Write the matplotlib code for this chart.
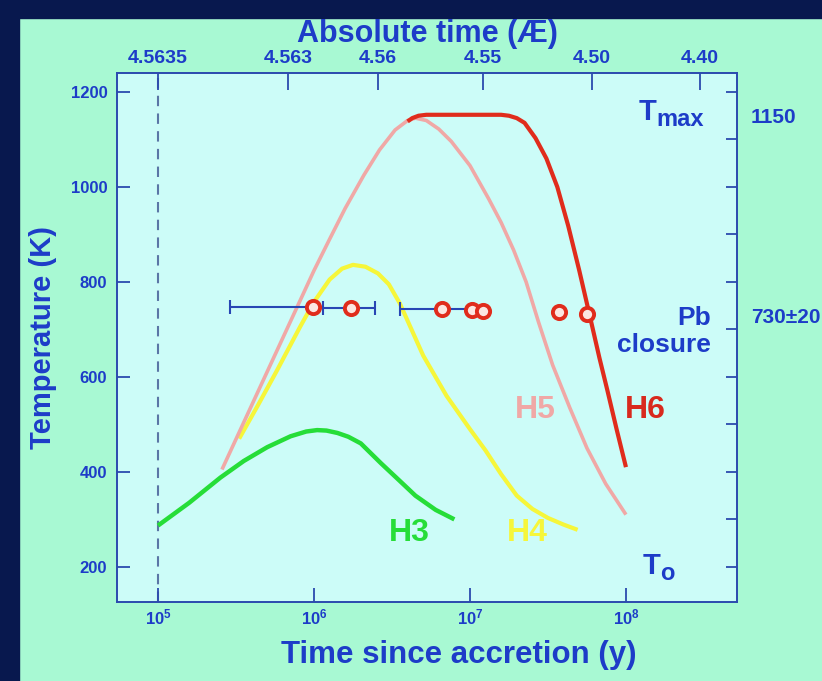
import matplotlib.pyplot as plt
import numpy as np
from matplotlib.patches import Rectangle

plt.rcParams["font.family"] = ["Liberation Sans", "DejaVu Sans"]
plt.rcParams["font.weight"] = "bold"
plt.rcParams["axes.labelweight"] = "bold"
plt.rcParams["mathtext.fontset"] = "custom"
plt.rcParams["mathtext.bf"] = "Liberation Sans:bold"
plt.rcParams["mathtext.rm"] = "Liberation Sans:bold"

# ─── Data (time as log10 years, temperature in K) ─────────────────────────────

h3_logt = [5.0, 5.2, 5.4, 5.55, 5.7, 5.85, 5.95, 6.02, 6.08, 6.15, 6.22, 6.3,
           6.43, 6.55, 6.65, 6.78, 6.9]
h3_temp = [287, 335, 388, 423, 452, 475, 485, 488, 487, 482, 474, 460,
           418, 381, 350, 320, 300]

h4_logt = [5.52, 5.64, 5.76, 5.91, 6.0, 6.1, 6.18, 6.25, 6.33, 6.41, 6.48, 6.55,
           6.7, 6.85, 7.0, 7.1, 7.2, 7.3, 7.4, 7.5, 7.6, 7.69]
h4_temp = [470, 540, 612, 705, 758, 805, 828, 836, 832, 818, 795, 755,
           645, 560, 490, 445, 395, 350, 322, 303, 289, 278]

h5_logt = [5.41, 5.6, 5.8, 6.0, 6.1, 6.2, 6.32, 6.42, 6.52, 6.6, 6.65, 6.72, 6.8,
           6.88, 7.0, 7.12, 7.2, 7.28, 7.36, 7.44, 7.53, 7.64, 7.75, 7.87, 8.0]
h5_temp = [405, 540, 682, 824, 890, 955, 1025, 1078, 1120, 1140, 1145, 1140, 1122,
           1096, 1045, 975, 925, 867, 800, 715, 625, 535, 450, 375, 310]

h6_logt = [6.6, 6.63, 6.67, 6.72, 7.0, 7.2, 7.25, 7.3, 7.35, 7.42, 7.49, 7.56,
           7.63, 7.7, 7.77, 7.83, 7.88, 7.94, 8.0]
h6_temp = [1138, 1145, 1150, 1152, 1152, 1152, 1150, 1145, 1135, 1103, 1060, 1000,
           918, 825, 726, 640, 573, 490, 410]

pb_logt = [5.992, 6.237, 6.822, 7.011, 7.085, 7.572, 7.752]
pb_temp = [748, 746, 743, 740, 739, 736, 733]
# error bar extents for the first three ages
err_lo = [5.462, 6.058, 6.551]
err_hi = [5.992, 6.391, 7.011]

top_pos = [5.0, 5.833, 6.41, 7.083, 7.782, 8.474]
top_labels = ["4.5635", "4.563", "4.56", "4.55", "4.50", "4.40"]

bottom_pos = [5, 6, 7, 8]
left_ticks = [200, 400, 600, 800, 1000, 1200]
right_vals = [1150, 730, 200]
right_labels = ["1150", "730\u00b120", "200"]

# ─── Style ────────────────────────────────────────────────────────────────────

MINT = "#A8F9D3"
CYAN = "#CCFCF8"
NAVY = "#08184E"
BLUE = "#1D3CC8"
SPINE = "#2B4AAE"
GREEN = "#26DD38"
YELLOW = "#F6F63A"
PINK = "#F0A8A6"
RED = "#E02C1C"
W, H = 822, 681


def yr(logt):
    return np.power(10.0, np.asarray(logt, dtype=float))


fig = plt.figure(figsize=(W / 100, H / 100), dpi=100, facecolor=MINT)
fig.patches.append(Rectangle((0, 0), 19 / W, 1, transform=fig.transFigure,
                             color=NAVY, zorder=-1))
fig.patches.append(Rectangle((0, 1 - 18 / H), 1, 18 / H, transform=fig.transFigure,
                             color=NAVY, zorder=-1))

ax = fig.add_axes([117 / W, 1 - 602 / H, 620 / W, 529 / H])
ax.set_facecolor(CYAN)
ax.set_xscale("log")
ax.set_xlim(10 ** 4.737, 10 ** 8.712)
ax.set_ylim(126, 1240)

ax.axvline(1e5, color="#5A76A6", lw=1.5, ls=(0, (5, 3.5)), zorder=1)

line_kw = dict(solid_capstyle="butt", solid_joinstyle="round")
ax.plot(yr(h3_logt), h3_temp, color=GREEN, lw=3.2, zorder=3, **line_kw)
ax.plot(yr(h4_logt), h4_temp, color=YELLOW, lw=3.0, zorder=3, **line_kw)
ax.plot(yr(h5_logt), h5_temp, color=PINK, lw=2.6, zorder=4, **line_kw)
ax.plot(yr(h6_logt), h6_temp, color=RED, lw=3.0, zorder=4, **line_kw)

x_pts = yr(pb_logt[:3])
xerr = [x_pts - yr(err_lo), yr(err_hi) - x_pts]
ax.errorbar(x_pts, pb_temp[:3], xerr=xerr, fmt="none", ecolor="#2846B4",
            elinewidth=1.5, capsize=5, capthick=1.5, zorder=5)
ax.plot(yr(pb_logt), pb_temp, "o", ms=9.5, mew=2.8, mec=RED, mfc="#FBE6E2", zorder=6)

# axes styling
for s in ax.spines.values():
    s.set_color(SPINE)
    s.set_linewidth(1.4)

ax.set_xticks(yr(bottom_pos))
ax.set_xticklabels([rf"$\mathbf{{10^{{{p}}}}}$" for p in bottom_pos])
ax.minorticks_off()
ax.set_yticks(left_ticks)
ax.set_yticks(np.arange(300, 1200, 200), minor=True)
ax.tick_params(axis="x", which="major", direction="in", length=10, width=1.3,
               color=SPINE, labelcolor=BLUE, labelsize=12, pad=4)
ax.tick_params(axis="y", which="both", direction="in", length=9, width=1.3,
               color=SPINE, labelcolor=BLUE, labelsize=12, pad=7)
ax.tick_params(axis="x", which="minor", bottom=False)

ax.set_xlabel("Time since accretion (y)", color=BLUE, fontsize=22.5,
              fontweight="bold")
ax.xaxis.set_label_coords(0.552, -0.072)
ax.set_ylabel("Temperature (K)", color=BLUE, fontsize=21,
              fontweight="bold", labelpad=10)

# top axis: absolute time
ax_top = ax.twiny()
ax_top.set_xscale("log")
ax_top.set_xlim(ax.get_xlim())
ax_top.set_xticks(yr(top_pos))
ax_top.set_xticklabels(top_labels)
ax_top.minorticks_off()
ax_top.tick_params(axis="x", direction="in", length=12, width=1.3, color=SPINE,
                   labelcolor=BLUE, labelsize=14, pad=4)
ax_top.set_xlabel("Absolute time (\u00c6)", color=BLUE, fontsize=22,
                  fontweight="bold", labelpad=6)
for s in ax_top.spines.values():
    s.set_visible(False)

# right axis: labelled temperatures
ax_r = ax.twinx()
ax_r.set_ylim(ax.get_ylim())
ax_r.set_yticks(np.arange(200, 1300, 100))
ax_r.set_yticklabels([])
ax_r.set_yticks(right_vals, minor=True)
ax_r.set_yticklabels(right_labels, minor=True)
ax_r.tick_params(axis="y", which="major", direction="in", length=8, width=1.3,
                 color=SPINE)
ax_r.tick_params(axis="y", which="minor", length=0, labelcolor=BLUE,
                 labelsize=15, pad=10)
for s in ax_r.spines.values():
    s.set_visible(False)


# annotations
def ftext(x, y, s, **kw):
    fig.text(x / W, 1 - y / H, s, **kw)


ftext(656, 112, "T", color=BLUE, fontsize=21, ha="right", va="center")
ftext(656, 120, "max", color=BLUE, fontsize=17, ha="left", va="center")
ftext(711, 318, "Pb", color=BLUE, fontsize=19, ha="right", va="center")
ftext(711, 345, "closure", color=BLUE, fontsize=19, ha="right", va="center")
ftext(660, 566, "T", color=BLUE, fontsize=21, ha="right", va="center")
ftext(660, 574, "o", color=BLUE, fontsize=17, ha="left", va="center")

ftext(409, 533, "H3", color=GREEN, fontsize=23, ha="center", va="center")
ftext(527, 533, "H4", color=YELLOW, fontsize=23, ha="center", va="center")
ftext(535, 410, "H5", color=PINK, fontsize=23, ha="center", va="center")
ftext(645, 410, "H6", color="#D82A1E", fontsize=23, ha="center", va="center")

fig.savefig("out.png", dpi=100, facecolor=MINT)
